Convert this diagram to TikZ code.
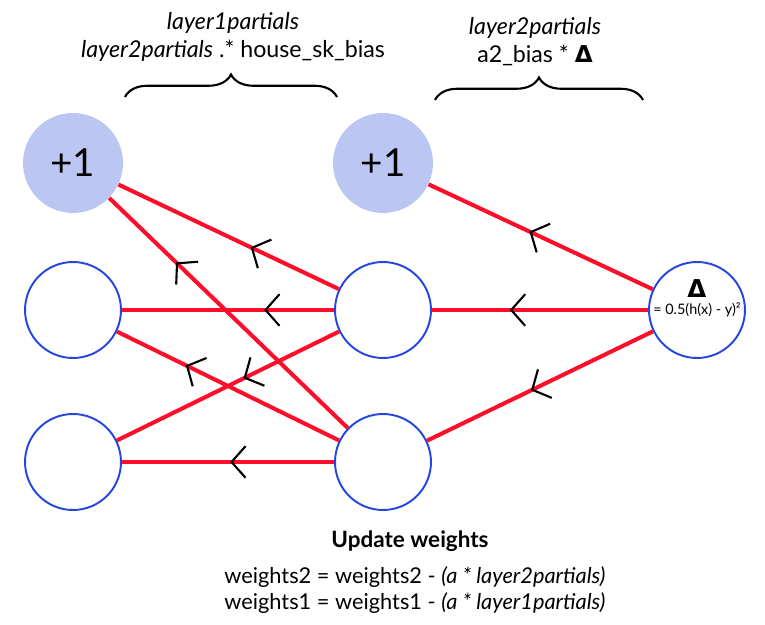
\documentclass[tikz,border=0pt]{standalone}
\usepackage{fontspec}
\setmainfont{Lato}
\newfontfamily\symbfont{DejaVu Sans}[BoldFont=DejaVu Sans Bold]
\usetikzlibrary{arrows.meta,decorations.markings,decorations.pathreplacing}
\definecolor{wred}{HTML}{FF0D2A}
\definecolor{nblue}{HTML}{2545E0}
\definecolor{bfill}{HTML}{BCC6F2}
\newcommand{\deltasym}{{\symbfont\bfseries Δ}}
\begin{document}
\begin{tikzpicture}[x=0.02cm,y=-0.02cm,
	neuron/.style={circle,draw=nblue,line width=1.1pt,minimum size=1.92cm,inner sep=0pt},
	biasn/.style={circle,fill=bfill,minimum size=2cm,inner sep=0pt,font=\fontsize{22}{24}\selectfont},
	grad/.style={wred,line width=2.3pt,postaction={decorate,decoration={markings,
		mark=at position #1 with {\arrow{Straight Barb[length=8pt,width=18pt,line width=1.2pt,color=black]}}}}},
	lbl/.style={font=\fontsize{12.4}{15}\selectfont,align=center,inner sep=0pt},
	toplbl/.style={lbl,font=\fontsize{13.2}{16}\selectfont},
	accol/.style={line width=1.2pt,decorate,decoration={brace,amplitude=0.45cm}}]
	\useasboundingbox (0,0) rectangle (765,625);
	% les neurones
	\node[biasn] (b1) at (73,163) {+1};
	\node[neuron] (x1) at (73,310) {};
	\node[neuron] (x2) at (73,462) {};
	\node[biasn] (b2) at (383,163) {+1};
	\node[neuron] (h1) at (383,310) {};
	\node[neuron] (h2) at (383,462) {};
	\node[neuron] (out) at (697,310) {};
	\node[inner sep=0pt,font=\fontsize{14}{14}\selectfont] (outd) at (697,289) {\deltasym};
	\node[inner sep=0pt,font=\fontsize{8.2}{9}\selectfont] (outf) at (697,310) {= 0.5(h(x) - y)²};
	% la rétropropagation
	\draw[grad=0.55] (out) -- (b2);
	\draw[grad=0.64] (out) -- (h1);
	\draw[grad=0.54] (out) -- (h2);
	\draw[grad=0.40] (h1) -- (b1);
	\draw[grad=0.33] (h1) -- (x1);
	\draw[grad=0.43] (h1) -- (x2);
	\draw[grad=0.72] (h2) -- (b1);
	\draw[grad=0.69] (h2) -- (x1);
	\draw[grad=0.49] (h2) -- (x2);
	% les accolades
	\draw[accol] (125,97) -- (337,97);
	\draw[accol] (435,100) -- (643,100);
	\node[toplbl] (p1) at (233,37) {\textit{layer1partials}\\\textit{layer2partials} .* house\_sk\_bias};
	\node[toplbl] (p2) at (535,42) {\textit{layer2partials}\\a2\_bias * \deltasym};
	% la mise à jour
	\node[lbl,font=\fontsize{12.8}{15}\selectfont\bfseries] (upd) at (410,541) {Update weights};
	\node[lbl] (w2) at (415,577) {weights2 = weights2 - \textit{(a * layer2partials)}};
	\node[lbl] (w1) at (415,603) {weights1 = weights1 - \textit{(a * layer1partials)}};
\end{tikzpicture}
\end{document}
